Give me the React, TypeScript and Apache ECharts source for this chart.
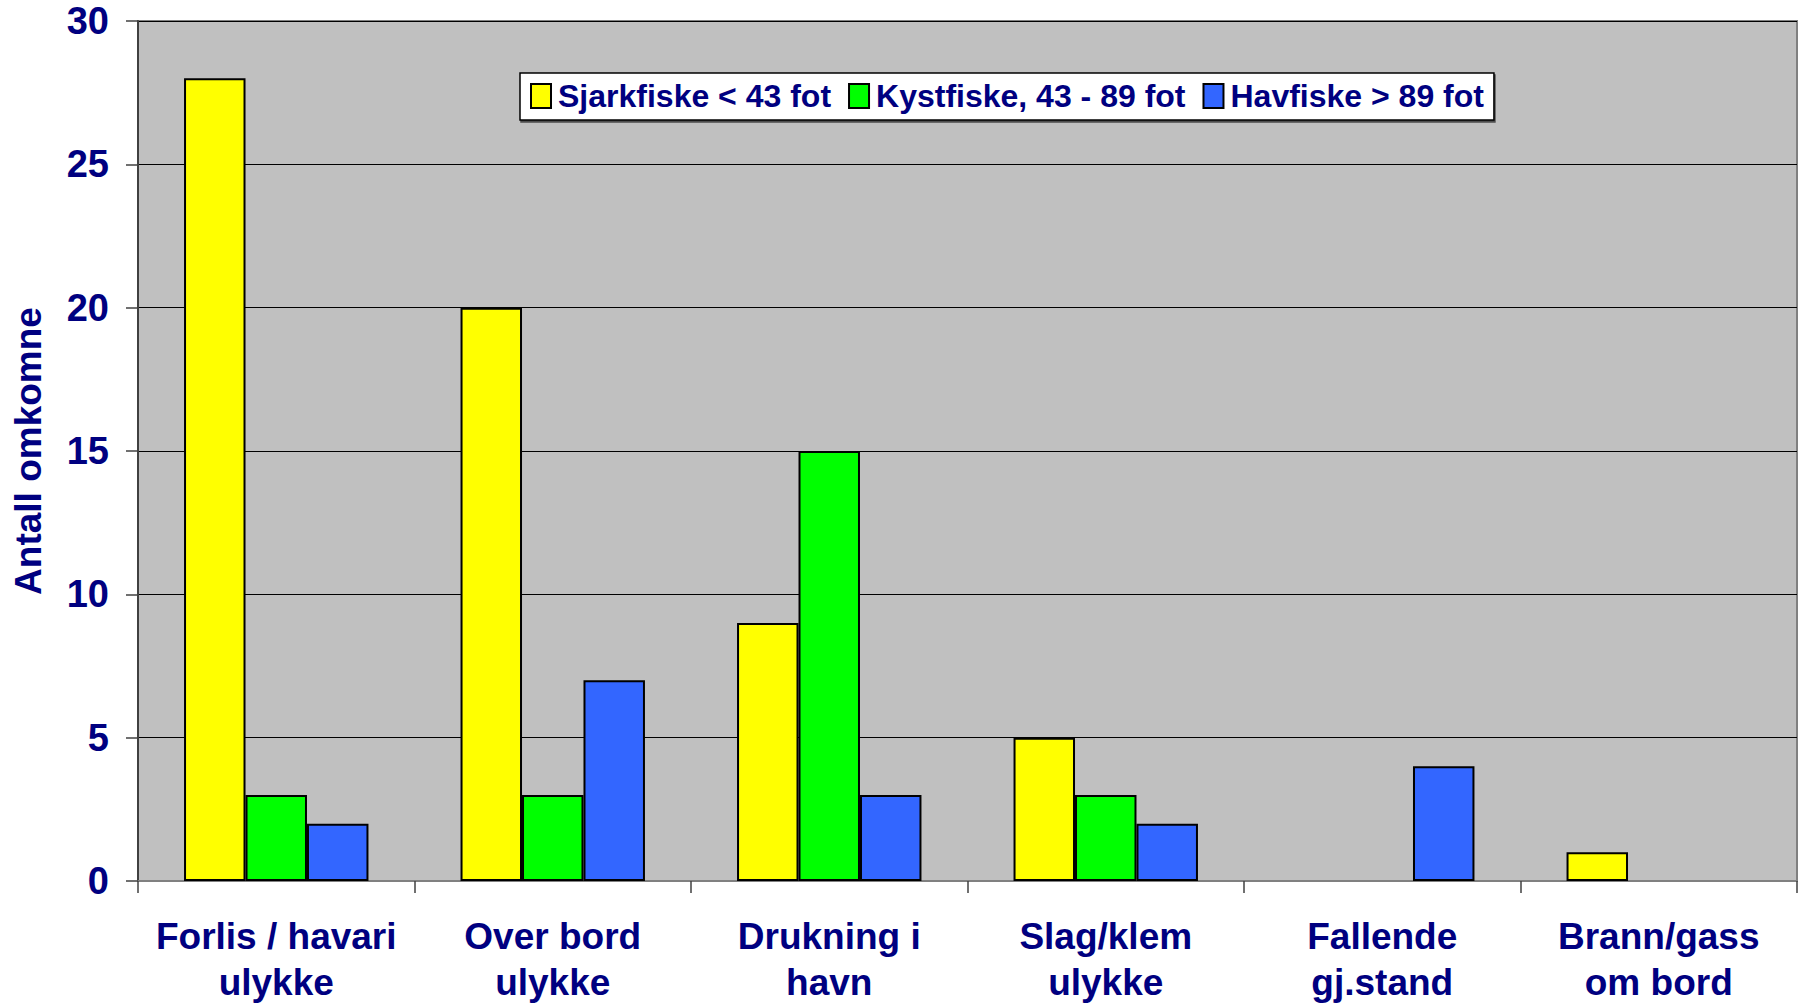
import React, { useEffect, useRef } from "react";
import * as echarts from "echarts";

const categories = [
  "Forlis / havari\nulykke",
  "Over bord\nulykke",
  "Drukning i\nhavn",
  "Slag/klem\nulykke",
  "Fallende\ngj.stand",
  "Brann/gass\nom bord",
];
const seriesNames = ["Sjarkfiske < 43 fot", "Kystfiske, 43 - 89 fot", "Havfiske > 89 fot"];
const sjarkfiske = [28, 20, 9, 5, null, 1];
const kystfiske = [3, 3, 15, 3, null, null];
const havfiske = [2, 7, 3, 2, 4, null];
const seriesColors = ["#FFFF00", "#00FF00", "#3366FF"];
const yAxisName = "Antall omkomne";

const FONT = "'Liberation Sans', Arial, sans-serif";
const NAVY = "#000080";

export default function App() {
  const ref = useRef<HTMLDivElement>(null);
  useEffect(() => {
    if (!ref.current) return;
    const chart = echarts.init(ref.current, null, { renderer: "svg" });
    const data = [sjarkfiske, kystfiske, havfiske];
    chart.setOption({
      animation: false,
      backgroundColor: "#ffffff",
      textStyle: { fontFamily: FONT },
      grid: {
        left: 138,
        top: 21,
        right: 2,
        bottom: 120,
        show: true,
        backgroundColor: "#C0C0C0",
        borderColor: "#808080",
        borderWidth: 2,
      },
      legend: {
        left: 520,
        top: 73,
        padding: [7, 10, 8, 10],
        backgroundColor: "#ffffff",
        borderColor: "#000000",
        borderWidth: 1.5,
        shadowColor: "rgba(0,0,0,0.6)",
        shadowOffsetX: 1,
        shadowOffsetY: 2,
        shadowBlur: 0,
        itemWidth: 20,
        itemHeight: 24,
        itemGap: 17,
        icon: "rect",
        textStyle: {
          fontFamily: FONT,
          fontSize: 32,
          fontWeight: "bold",
          color: NAVY,
          padding: [0, 0, 0, 2],
          lineHeight: 32,
        },
        data: seriesNames,
      },
      xAxis: {
        type: "category",
        data: categories,
        axisLine: { show: true, lineStyle: { color: "#808080", width: 2 } },
        axisTick: { show: true, length: 12, lineStyle: { color: "#404040", width: 1.5 } },
        axisLabel: {
          interval: 0,
          margin: 32,
          fontFamily: FONT,
          fontSize: 37,
          fontWeight: "bold",
          color: NAVY,
          lineHeight: 46,
        },
        splitLine: { show: false },
      },
      yAxis: {
        type: "value",
        min: 0,
        max: 30,
        interval: 5,
        name: yAxisName,
        nameLocation: "middle",
        nameRotate: 90,
        nameGap: 91,
        nameTextStyle: {
          fontFamily: FONT,
          fontSize: 37,
          fontWeight: "bold",
          color: NAVY,
        },
        axisLine: { show: true, lineStyle: { color: "#404040", width: 2 } },
        axisTick: { show: true, length: 12, lineStyle: { color: "#404040", width: 1.5 } },
        axisLabel: {
          margin: 29,
          fontFamily: FONT,
          fontSize: 38,
          fontWeight: "bold",
          color: NAVY,
        },
        splitLine: { show: true, lineStyle: { color: "#000000", width: 1.2 } },
      },
      series: seriesNames.map((name, i) => ({
        name,
        type: "bar",
        data: data[i],
        barGap: "0%",
        barCategoryGap: "33.3%",
        itemStyle: { color: seriesColors[i], borderColor: "#000000", borderWidth: 2 },
      })),
    });
    return () => chart.dispose();
  }, []);
  return (
    <div
      ref={ref}
      style={{ position: "fixed", left: 0, top: 0, width: 1799, height: 1005 }}
    />
  );
}
